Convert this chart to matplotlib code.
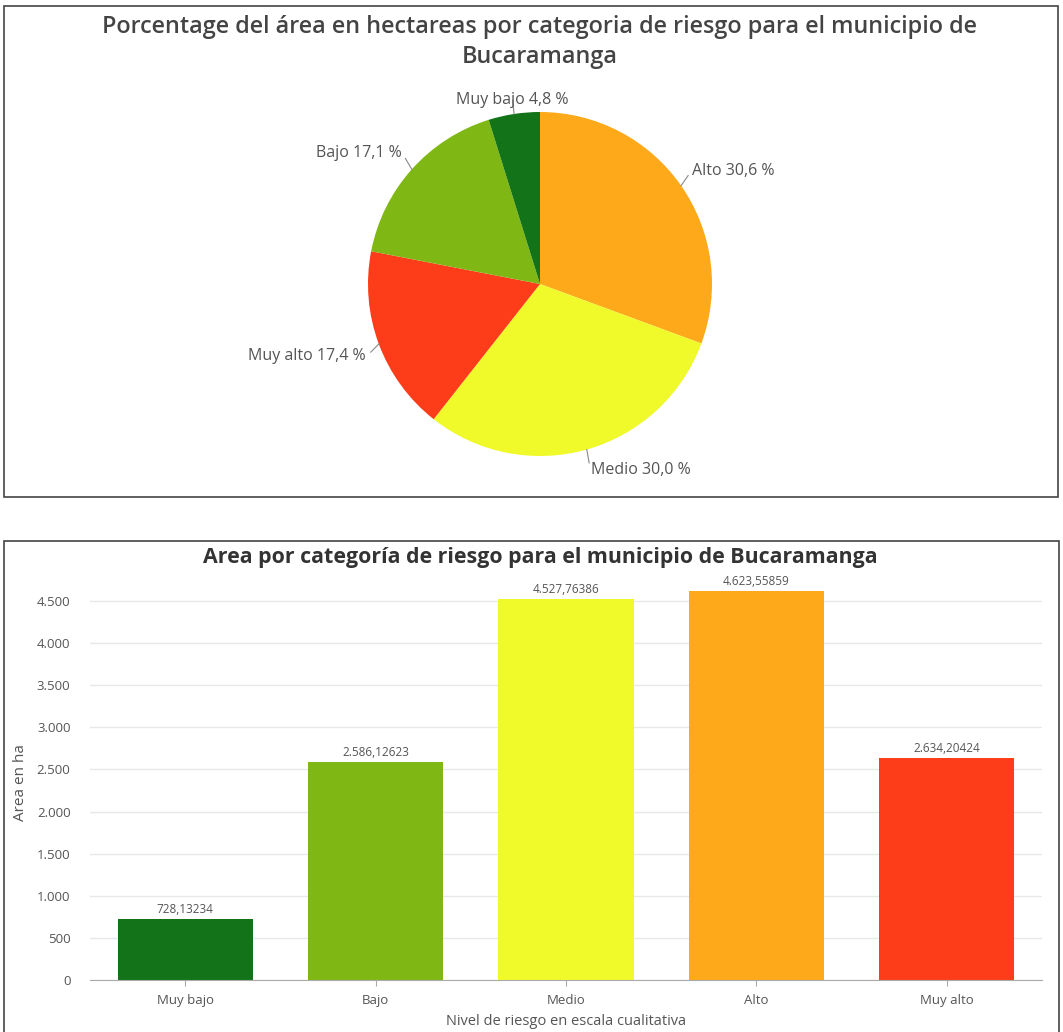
import numpy as np
import matplotlib
matplotlib.use("Agg")
import matplotlib.pyplot as plt
from matplotlib.patches import Rectangle
from matplotlib.ticker import FuncFormatter

plt.rcParams['font.family'] = ['Open Sans', 'DejaVu Sans']

# ---- data ----
categories = ["Muy bajo", "Bajo", "Medio", "Alto", "Muy alto"]
area_ha = [728.13234, 2586.12623, 4527.76386, 4623.55859, 2634.20424]
colors = ["#137318", "#7fb714", "#f0fa2a", "#fda91a", "#fd3d1a"]
pie_order = ["Alto", "Medio", "Muy alto", "Bajo", "Muy bajo"]
yticks = [0, 500, 1000, 1500, 2000, 2500, 3000, 3500, 4000, 4500]

W, H = 1063, 1032
fig = plt.figure(figsize=(W / 100, H / 100), dpi=100)


def rect(x0, y0, x1, y1):
    return [x0 / W, 1 - y1 / H, (x1 - x0) / W, (y1 - y0) / H]


# panel borders
fig.patches.append(Rectangle((4 / W, 1 - 497 / H), (1058 - 4) / W, (497 - 6) / H,
                             transform=fig.transFigure, fill=False, ec="#444444", lw=1.2))
fig.patches.append(Rectangle((4 / W, -0.05), (1059 - 4) / W, (1 - 541 / H) + 0.05,
                             transform=fig.transFigure, fill=False, ec="#444444", lw=1.2))


def fmt_thousands(v, dec=0):
    s = f"{v:,.{dec}f}"
    return s.replace(",", "X").replace(".", ",").replace("X", ".")


# ---- pie ----
cx, cy, r = 540, 284, 172
axp = fig.add_axes(rect(cx - r, cy - r, cx + r, cy + r))
idx = [categories.index(c) for c in pie_order]
vals = [area_ha[i] for i in idx]
cols = [colors[i] for i in idx]
total = sum(vals)
wedges, _ = axp.pie(vals, colors=cols, startangle=90, counterclock=False,
                    radius=1.0, wedgeprops=dict(linewidth=0))
axp.set_xlim(-1, 1)
axp.set_ylim(-1, 1)
axp.set_aspect("equal")
axp.axis("off")
for w, name, v in zip(wedges, pie_order, vals):
    ang = np.deg2rad((w.theta1 + w.theta2) / 2)
    c, s = np.cos(ang), np.sin(ang)
    off = 0.04 if abs(s) < 0.98 else 0.0
    lx, ly = 1.08 * c, 1.08 * s + off * np.sign(s)
    axp.plot([1.0 * c, 1.05 * c], [1.0 * s, 1.05 * s + 0.03 * np.sign(s)],
             color="#888888", lw=0.8, clip_on=False)
    if c > 0.2:
        ha = "left"
    elif c < -0.2:
        ha = "right"
    else:
        ha = "center"
    pct = f"{100 * v / total:.1f}".replace(".", ",")
    axp.text(lx, ly, f"{name} {pct} %", ha=ha, va="center",
             fontsize=11.5, color="#555555", clip_on=False)

fig.text(540 / W, 1 - 27 / H,
         "Porcentage del área en hectareas por categoria de riesgo para el municipio de",
         ha="center", va="center", fontsize=16.8, fontweight="semibold", color="#444444")
fig.text(540 / W, 1 - 57 / H, "Bucaramanga",
         ha="center", va="center", fontsize=16.8, fontweight="semibold", color="#444444")

# ---- bar chart ----
y0px, y4500px = 980, 601
ymax = 4700
ytop = y0px - (y0px - y4500px) * ymax / 4500
axb = fig.add_axes(rect(90, ytop, 1042, y0px))
x = np.arange(len(categories))
axb.bar(x, area_ha, width=0.71, color=colors, zorder=3)
axb.set_xlim(-0.5, len(categories) - 0.5)
axb.set_ylim(0, ymax)
axb.set_yticks(yticks)
axb.yaxis.set_major_formatter(FuncFormatter(lambda v, p: fmt_thousands(v)))
axb.set_xticks(x)
axb.set_xticklabels(categories)
for sp in ["top", "right", "left"]:
    axb.spines[sp].set_visible(False)
axb.spines["bottom"].set_color("#aaaaaa")
axb.spines["bottom"].set_zorder(4)
axb.grid(axis="y", color="#e8e8e8", lw=1, zorder=0)
axb.tick_params(axis="y", length=0, pad=14, labelsize=9.5, labelcolor="#555555")
axb.tick_params(axis="x", length=4, color="#aaaaaa", pad=6, labelsize=9.5,
                labelcolor="#555555")
for xi, v in zip(x, area_ha):
    axb.text(xi, v + 35, fmt_thousands(v, 5), ha="center", va="bottom",
             fontsize=8.5, color="#555555")
axb.set_ylabel("Area en ha", fontsize=11, color="#555555", labelpad=6)
axb.set_xlabel("Nivel de riesgo en escala cualitativa", fontsize=10.5,
               color="#555555", labelpad=5)
fig.text(540 / W, 1 - 557 / H,
         "Area por categoría de riesgo para el municipio de Bucaramanga",
         ha="center", va="center", fontsize=15.4, fontweight="bold", color="#333333")

fig.savefig("out.png", dpi=100, facecolor="white")
